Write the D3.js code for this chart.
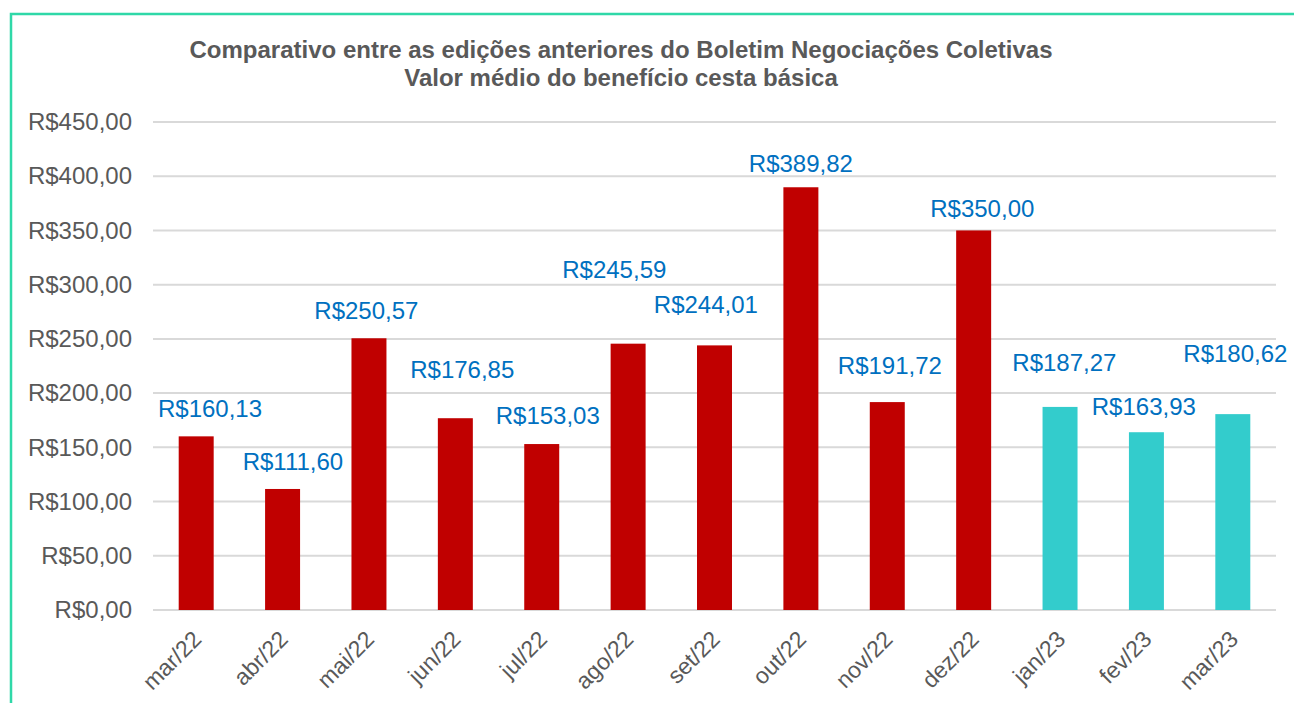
<!DOCTYPE html>
<html>
<head>
<meta charset="utf-8">
<script src="https://cdn.jsdelivr.net/npm/d3@7"></script>
<style>
  body { margin: 0; background: #fff; }
  text { font-family: "Liberation Sans", Arial, sans-serif; }
</style>
</head>
<body>
<div id="chart"></div>
<script>

// data
var months = ['mar/22', 'abr/22', 'mai/22', 'jun/22', 'jul/22', 'ago/22', 'set/22',
              'out/22', 'nov/22', 'dez/22', 'jan/23', 'fev/23', 'mar/23'];
var values = [160.13, 111.60, 250.57, 176.85, 153.03, 245.59, 244.01,
              389.82, 191.72, 350.00, 187.27, 163.93, 180.62];
var editions = ['old', 'old', 'old', 'old', 'old', 'old', 'old',
                'old', 'old', 'old', 'new', 'new', 'new'];
// where each data label sits (value units) and its sideways shift (share of a band step)
var labelAt = [185.4, 136.5, 275.7, 221.3, 178.9, 313.5, 281.3,
               411.3, 225.0, 369.8, 227.8, 187.7, 236.5];
var labelShift = [0.16, 0.12, -0.03, 0.08, 0.07, -0.16, -0.10,
                  0.0, 0.03, 0.10, 0.05, -0.03, 0.03];
var yTicks = [0, 50, 100, 150, 200, 250, 300, 350, 400, 450];
var titleLines = ['Comparativo entre as edições anteriores do Boletim Negociações Coletivas',
                  'Valor médio do benefício cesta básica'];

var W = 1294, H = 703;
var margin = {top: 122, right: 18, bottom: 93, left: 153},
    width = W - margin.left - margin.right,
    height = H - margin.top - margin.bottom;

var brl = d3.formatLocale({decimal: ",", thousands: ".", grouping: [3], currency: ["R$", ""]})
  .format("$,.2f");

var barColor = d3.scaleOrdinal()
  .domain(['old', 'new'])
  .range(['#C00000', '#33CCCC']);

var svg = d3.select("#chart")
  .append("svg")
    .attr("width", W)
    .attr("height", H);

// frame
svg.append("rect")
  .attr("x", 11)
  .attr("y", 14)
  .attr("width", W + 50)
  .attr("height", H + 50)
  .attr("fill", "none")
  .attr("stroke", "#2fd8a8")
  .attr("stroke-width", 2.5);

svg.append("text")
  .attr("x", 621)
  .attr("y", 58)
  .attr("text-anchor", "middle")
  .attr("fill", "#595959")
  .style("font-size", "24px")
  .style("font-weight", "bold")
  .selectAll("tspan")
  .data(titleLines)
  .join("tspan")
    .attr("x", 621)
    .attr("dy", function(d, i) { return i == 0 ? 0 : 28; })
    .text(function(d) { return d; });

var g = svg.append("g")
  .attr("transform", "translate(" + margin.left + "," + margin.top + ")");

var x = d3.scaleBand()
  .domain(months)
  .range([0, width])
  .paddingInner(0.595)
  .paddingOuter(0.2975);

var y = d3.scaleLinear()
  .domain([0, 450])
  .range([height, 0]);

// gridlines
g.append("g")
  .selectAll("line")
  .data(yTicks)
  .join("line")
    .attr("x1", 0)
    .attr("x2", width)
    .attr("y1", function(d) { return y(d); })
    .attr("y2", function(d) { return y(d); })
    .attr("stroke", "#d9d9d9")
    .attr("stroke-width", 2);

var yAxis = d3.axisLeft(y)
  .tickValues(yTicks)
  .tickSize(0)
  .tickPadding(21)
  .tickFormat(brl);

g.append("g")
  .call(yAxis)
  .call(function(s) { s.select(".domain").remove(); })
  .selectAll("text")
    .attr("fill", "#595959")
    .style("font-size", "24px")
    .style("font-family", "Liberation Sans, Arial, sans-serif");

// bars
g.append("g")
  .selectAll("rect")
  .data(values)
  .join("rect")
    .attr("x", function(d, i) { return x(months[i]); })
    .attr("y", function(d) { return y(d); })
    .attr("width", x.bandwidth())
    .attr("height", function(d) { return height - y(d); })
    .attr("fill", function(d, i) { return barColor(editions[i]); });

// x labels
g.append("g")
  .selectAll("text")
  .data(months)
  .join("text")
    .attr("transform", function(d) {
      return "translate(" + (x(d) + x.bandwidth() / 2 + 1) + "," + (height + 25) + ") rotate(-45)";
    })
    .attr("text-anchor", "end")
    .attr("dy", "0.35em")
    .attr("fill", "#595959")
    .style("font-size", "23px")
    .text(function(d) { return d; });

// data labels
g.append("g")
  .selectAll("text")
  .data(values)
  .join("text")
    .attr("x", function(d, i) { return x(months[i]) + x.bandwidth() / 2 + labelShift[i] * x.step(); })
    .attr("y", function(d, i) { return y(labelAt[i]); })
    .attr("dy", "0.35em")
    .attr("text-anchor", "middle")
    .attr("fill", "#0070C0")
    .style("font-size", "24px")
    .text(function(d) { return brl(d); });

</script>
</body>
</html>
